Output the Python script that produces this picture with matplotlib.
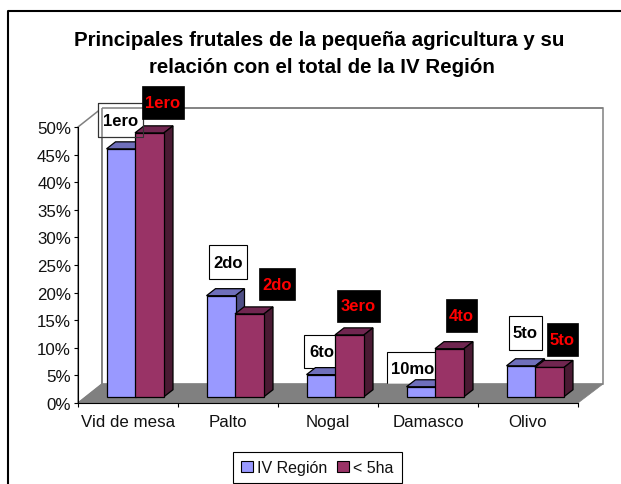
import matplotlib
matplotlib.use('Agg')
from matplotlib import pyplot as plt
from matplotlib.patches import Polygon, Rectangle
from matplotlib.lines import Line2D

plt.rcParams['font.family'] = ['Liberation Sans', 'DejaVu Sans']

categorias = ['Vid de mesa', 'Palto', 'Nogal', 'Damasco', 'Olivo']
region_iv = [44.9, 18.3, 4.0, 1.8, 5.6]
menor_5ha = [47.8, 15.0, 11.2, 8.7, 5.3]
ticks_y = [0, 5, 10, 15, 20, 25, 30, 35, 40, 45, 50]
rank_iv = ['1ero', '2do', '6to', '10mo', '5to']
rank_5ha = ['1ero', '2do', '3ero', '4to', '5to']

W, H = 621, 485
# label boxes in pixels of the picture: x0, x1, y0, y1
cajas_iv = [(98, 143, 104, 138), (209, 247, 246, 280), (304, 340, 336, 369), (387, 438, 353, 387), (509, 542, 317, 351)]
cajas_5ha = [(142, 184, 87, 120), (259, 295, 269, 301), (337, 380, 291, 323), (446, 477, 300, 333), (547, 578, 324, 357)]

fig = plt.figure(figsize=(W / 100, H / 100), dpi=100)
ax = fig.add_axes([78 / W, (H - 404) / H, 500 / W, 276 / H])
ax.set_xlim(0, 5)
ax.set_ylim(0, 50)
ax.patch.set_visible(False)


def px(x, y):
    # picture pixels to data coords
    return (x - 78) / 100, (404 - y) / 5.52


def poly(puntos, **kw):
    ax.add_patch(Polygon([px(*p) for p in puntos], closed=True, clip_on=False, **kw))


# outer frame, runs off the right and bottom of the image
fig.add_artist(Line2D([8 / W, 8 / W, 1], [0, 1 - 12 / H, 1 - 12 / H], color='black', lw=1.5))

# walls and floor
poly([(78, 128), (102, 109), (102, 385), (78, 404)], fc='white', ec='#808080', lw=1.1, zorder=1)
poly([(102, 109), (603, 109), (603, 385), (102, 385)], fc='white', ec='#808080', lw=1.1, zorder=1)

# rank boxes go behind the bars
for caja, t in zip(cajas_iv, rank_iv):
    x0, x1, y0, y1 = caja
    poly([(x0, y0), (x1, y0), (x1, y1), (x0, y1)], fc='white', ec='black', lw=0.8, zorder=1.5)
    ax.text(*px((x0 + x1) / 2, (y0 + y1) / 2), t, ha='center', va='center', fontsize=12,
            fontweight='bold', color='black', zorder=6)
poly([(102, 109), (603, 109)], fc='none', ec='#808080', lw=1.1, zorder=1.6)
poly([(102, 109), (102, 385)], fc='none', ec='#808080', lw=1.1, zorder=1.6)
poly([(78, 404), (102, 385), (603, 385), (578, 404)], fc='#808080', ec='#808080', lw=0.5, zorder=1.7)

base = 1.14
ancho = 0.29
prof_x = 0.09
prof_y = 1.27


def barras(pos, valores, color, tapa, lado, z):
    ax.bar(pos, valores, ancho, bottom=base, color=color, edgecolor='black', lw=0.9, zorder=z + 0.2)
    for p, v in zip(pos, valores):
        x0 = p - ancho / 2
        x1 = p + ancho / 2
        top = base + v
        ax.add_patch(Polygon([(x0, top), (x1, top), (x1 + prof_x, top + prof_y), (x0 + prof_x, top + prof_y)],
                             fc=tapa, ec='black', lw=0.9, zorder=z, clip_on=False))
        ax.add_patch(Polygon([(x1, base), (x1 + prof_x, base + prof_y), (x1 + prof_x, top + prof_y), (x1, top)],
                             fc=lado, ec='black', lw=0.9, zorder=z, clip_on=False))


pos_iv = [i + 0.43 for i in range(len(categorias))]
pos_5ha = [i + 0.715 for i in range(len(categorias))]
barras(pos_iv, region_iv, '#9999FF', '#6F6FBB', '#4E4E85', 2)
barras(pos_5ha, menor_5ha, '#993366', '#702650', '#4A1A33', 3)

# the first white box edge shows over the red bar
poly([(98, 104), (143, 104), (143, 138), (98, 138)], fc='none', ec='#333333', lw=0.8, zorder=4)

for caja, t in zip(cajas_5ha, rank_5ha):
    x0, x1, y0, y1 = caja
    poly([(x0, y0), (x1, y0), (x1, y1), (x0, y1)], fc='black', ec='black', lw=0.5, zorder=5)
    ax.text(*px((x0 + x1) / 2, (y0 + y1) / 2), t, ha='center', va='center', fontsize=12,
            fontweight='bold', color='#FF0000', zorder=6)

ax.spines['top'].set_visible(False)
ax.spines['right'].set_visible(False)
ax.spines['left'].set_zorder(2)
ax.spines['bottom'].set_zorder(2)
ax.set_yticks(ticks_y)
ax.set_yticklabels([str(t) + '%' for t in ticks_y], fontsize=12.2, color='#111111')
ax.set_xticks(range(len(categorias) + 1))
ax.set_xticklabels([''] * (len(categorias) + 1))
ax.set_xticks([i + 0.5 for i in range(len(categorias))], categorias, minor=True, fontsize=12.2, color='#111111')
ax.tick_params(axis='x', which='minor', length=0, pad=8)
ax.tick_params(axis='x', which='major', length=3, width=0.8)
ax.tick_params(axis='y', length=3, width=0.8, pad=2)

fig.text(319 / W, 1 - 41 / H, 'Principales frutales de la pequeña agricultura y su', ha='center', va='center',
         fontsize=14.8, fontweight='bold')
fig.text(322 / W, 1 - 68 / H, 'relación con el total de la IV Región', ha='center', va='center',
         fontsize=14.8, fontweight='bold')

h1 = Rectangle((0, 0), 1, 1, fc='#9999FF', ec='black', lw=0.8)
h2 = Rectangle((0, 0), 1, 1, fc='#993366', ec='black', lw=0.8)
leg = fig.legend([h1, h2], ['IV Región', '< 5ha'], loc='center', bbox_to_anchor=(317.5 / W, 1 - 468.5 / H),
                 ncol=2, fontsize=11.5, frameon=True, fancybox=False, edgecolor='black', framealpha=1,
                 handlelength=0.75, handleheight=0.75, handletextpad=0.25, columnspacing=0.6, borderpad=0.52,
                 labelcolor='#111111')
leg.get_frame().set_linewidth(0.8)

fig.savefig('out.png', dpi=100)
